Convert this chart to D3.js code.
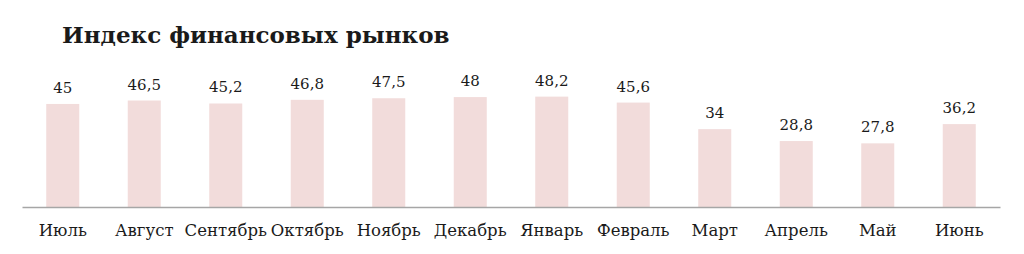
<!DOCTYPE html>
<html>
<head>
<meta charset="utf-8">
<script src="https://cdn.jsdelivr.net/npm/d3@7"></script>
<style>
  body { margin: 0; background: #fff; }
  text { font-family: "DejaVu Serif", "Liberation Serif", serif; fill: #1a1a1a; }
</style>
</head>
<body>
<div id="main"></div>
<script>
const months = ["Июль", "Август", "Сентябрь", "Октябрь", "Ноябрь", "Декабрь",
  "Январь", "Февраль", "Март", "Апрель", "Май", "Июнь"];
const values = [45, 46.5, 45.2, 46.8, 47.5, 48, 48.2, 45.6, 34, 28.8, 27.8, 36.2];
const title = "Индекс финансовых рынков";

const config = {div: '#main', width: 1024, height: 254, left: 22, right: 24, base: 207};

const svg = d3.select(config.div)
  .append("svg")
  .attr("width", config.width)
  .attr("height", config.height);

const xScale = d3.scaleBand()
  .domain(months)
  .range([config.left, config.width - config.right])
  .paddingInner(0.595)
  .paddingOuter(0.2975);

const yScale = d3.scaleLinear()
  .domain([0, 60])
  .range([config.base, config.base - 60 * 2.29]);

// bars
svg.append("g")
  .selectAll("rect")
  .data(values)
  .join("rect")
  .attr("x", (d, i) => xScale(months[i]))
  .attr("y", d => yScale(d))
  .attr("width", xScale.bandwidth())
  .attr("height", d => yScale(0) - yScale(d))
  .style("fill", "#f2dcdb");

// value labels
svg.append("g")
  .selectAll("text")
  .data(values)
  .join("text")
  .attr("x", (d, i) => xScale(months[i]) + xScale.bandwidth() / 2)
  .attr("y", d => yScale(d) - 11)
  .attr("text-anchor", "middle")
  .style("font-size", "15px")
  .text(d => String(d).replace(".", ","));

// x axis
const xAxis = d3.axisBottom(xScale).tickSize(0).tickPadding(17);
const gx = svg.append("g")
  .attr("transform", `translate(0,${config.base})`)
  .call(xAxis);
gx.select(".domain").attr("stroke", "#a6a6a6").attr("stroke-width", 1.3);
gx.selectAll("text")
  .style("font-size", "16.5px")
  .style("font-family", "'DejaVu Serif', 'Liberation Serif', serif")
  .attr("fill", "#1a1a1a");

// title
svg.append("text")
  .attr("x", 62)
  .attr("y", 43)
  .style("font-size", "23px")
  .style("font-weight", "bold")
  .text(title);
</script>
</body>
</html>
